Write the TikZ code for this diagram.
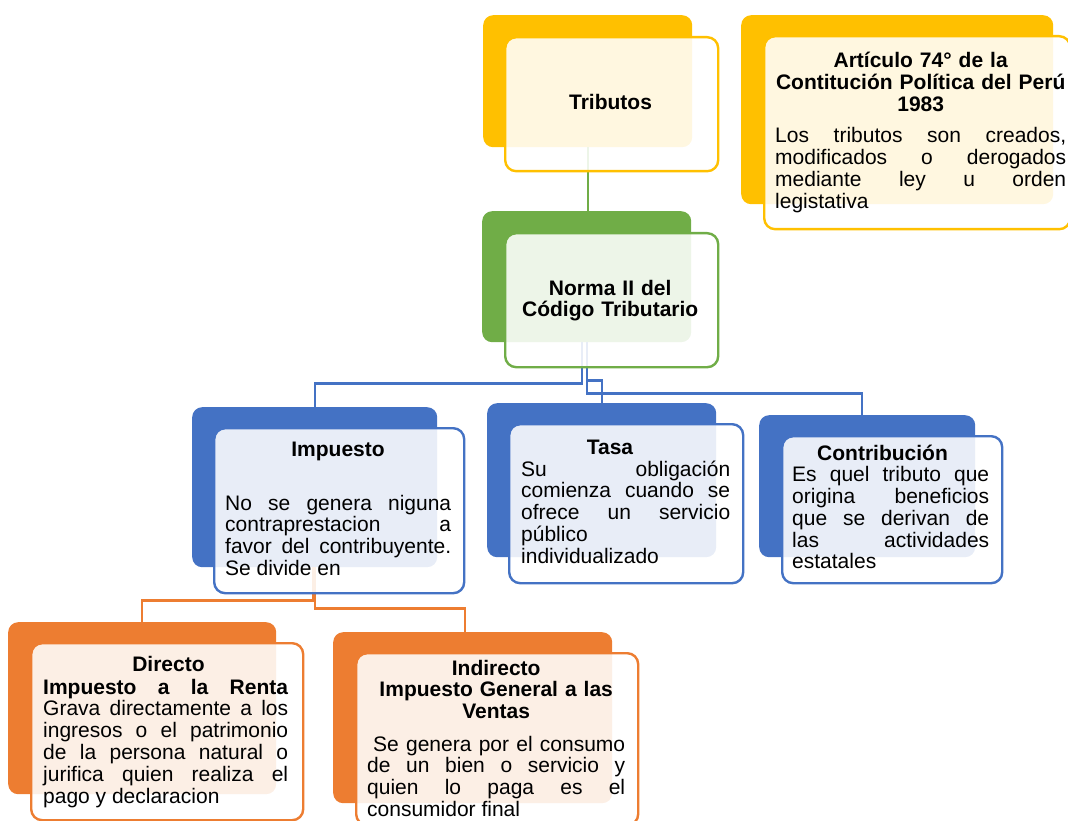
\documentclass[tikz,border=0pt]{standalone}
\usepackage{fontspec}
\setmainfont{Liberation Sans}
\definecolor{oro}{HTML}{FFC000}
\definecolor{verde}{HTML}{70AD47}
\definecolor{azul}{HTML}{4472C4}
\definecolor{naranja}{HTML}{ED7D31}

\begin{document}
\begin{tikzpicture}[x=1pt, y=-1pt,
  fondo/.style={fill=#1, rounded corners=10pt, inner sep=0pt, anchor=north west},
  caja/.style={draw=#1, line width=2.4pt, fill=white, fill opacity=0.88, text opacity=1,
    rounded corners=11pt, inner sep=0pt, anchor=north west},
  texto/.style={inner sep=0pt, anchor=base west, text width=#1, align=justify,
    font=\fontsize{21}{21.8}\selectfont},
  negrita/.style={inner sep=0pt, font=\fontsize{21}{21.8}\selectfont\bfseries},
  titulo/.style={negrita, anchor=base},
  enlace/.style={draw=#1, line width=2.4pt}]
\useasboundingbox (0,0) rectangle (1068,821);
% fondos
\node[fondo=oro, minimum width=209, minimum height=132] (trib-b) at (483,15) {};
\node[fondo=oro, minimum width=312, minimum height=189] (art-b) at (741,15) {};
\node[fondo=verde, minimum width=209, minimum height=131] (norma-b) at (482,211) {};
\node[fondo=azul, minimum width=245, minimum height=160] (imp-b) at (192,407) {};
\node[fondo=azul, minimum width=229, minimum height=154] (tasa-b) at (487,403) {};
\node[fondo=azul, minimum width=216, minimum height=142] (cont-b) at (759,415) {};
\node[fondo=naranja, minimum width=268, minimum height=172] (dir-b) at (8,622) {};
\node[fondo=naranja, minimum width=279, minimum height=171] (ind-b) at (333,632) {};
% enlaces
\draw[enlace=verde] (trib-b.south) -- (trib-b.south |- norma-b.north);
\draw[enlace=azul] ([xshift=-5pt]norma-b.south) -- ++(0,41) -| (imp-b.north);
\draw[enlace=azul] (norma-b.south) -- ++(0,38) -| (tasa-b.north);
\draw[enlace=azul] (norma-b.south) -- ++(0,51) -| ([xshift=-5pt]cont-b.north);
\draw[enlace=naranja] ([xshift=-2pt]imp-b.south) -- ++(0,33) -| (dir-b.north);
\draw[enlace=naranja] (imp-b.south) -- ++(0,41) -| ([xshift=-8pt]ind-b.north);
% cajas
\node[caja=oro, minimum width=213, minimum height=134] (trib-c) at (504,36) {};
\node[caja=oro, minimum width=306, minimum height=193] (art-c) at (763,35) {};
\node[caja=verde, minimum width=213, minimum height=134] (norma-c) at (504,232) {};
\node[caja=azul, minimum width=250, minimum height=165] (imp-c) at (213,427) {};
\node[caja=azul, minimum width=234, minimum height=159] (tasa-c) at (508,423) {};
\node[caja=azul, minimum width=220, minimum height=147] (cont-c) at (781,435) {};
\node[caja=naranja, minimum width=272, minimum height=177] (dir-c) at (30,642) {};
\node[caja=naranja, minimum width=282, minimum height=172] (ind-c) at (355,652) {};
% textos
\node[titulo] (trib) at (610.5,110) {Tributos};
\node[negrita, anchor=base west, text width=291, align=center] (art) at (775,68)
  {Artículo 74° de la\\Contitución Política del Perú\\1983};
\node[texto=291] (art-t) at (775,143)
  {Los tributos son creados,\linebreak modificados o derogados\linebreak mediante ley u orden\linebreak legistativa};
\node[negrita, anchor=base west, text width=200, align=center] (norma) at (510,295)
  {Norma II del\\Código Tributario};
\node[titulo] (imp) at (338,456.7) {Impuesto};
\node[texto=226] (imp-t) at (225,510)
  {No se genera niguna\linebreak contraprestacion a\linebreak favor del contribuyente.\linebreak Se divide en};
\node[titulo] (tasa) at (610,454) {Tasa};
\node[texto=209] (tasa-t) at (521,476)
  {Su obligación\linebreak comienza cuando se\linebreak ofrece un servicio\linebreak público\\individualizado};
\node[titulo] (cont) at (882.5,460) {Contribución};
\node[texto=197] (cont-t) at (792,481.7)
  {Es quel tributo que\linebreak origina beneficios\linebreak que se derivan de\linebreak las actividades\linebreak estatales};
\node[titulo] (dir) at (168.5,671) {Directo};
\node[texto=245] (dir-t) at (43,694)
  {\textbf{Impuesto a la Renta}\linebreak Grava directamente a los\linebreak ingresos o el patrimonio\linebreak de la persona natural o\linebreak jurifica quien realiza el\linebreak pago y declaracion};
\node[negrita, anchor=base west, text width=258, align=center] (ind) at (367,675)
  {Indirecto\\Impuesto General a las\\Ventas};
\node[texto=258] (ind-t) at (367,751)
  {\hspace*{6pt}Se genera por el consumo\linebreak de un bien o servicio y\linebreak quien lo paga es el\linebreak consumidor final};
\end{tikzpicture}
\end{document}
